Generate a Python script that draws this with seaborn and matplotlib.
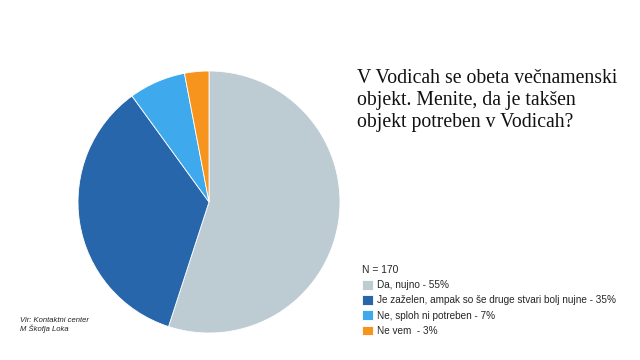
import matplotlib
matplotlib.use("Agg")
import matplotlib.pyplot as plt
import seaborn as sns

sns.set_theme(style="white")
plt.rcParams['font.family'] = ['Liberation Sans', 'DejaVu Sans']

labels = ["Da, nujno - 55%",
          "Je zaželen, ampak so še druge stvari bolj nujne - 35%",
          "Ne, sploh ni potreben - 7%",
          "Ne vem  - 3%"]
values = [55, 35, 7, 3]
colors = ["#BDCCD3", "#2866AC", "#3FA9EE", "#F7941D"]
title_lines = "V Vodicah se obeta večnamenski\nobjekt. Menite, da je takšen\nobjekt potreben v Vodicah?"
source = "Vir: Kontaktni center\nM Škofja Loka"

fig = plt.figure(figsize=(6.4, 3.6), dpi=100)
ax = fig.add_axes([78/640, 27/360, 262/640, 262/360])
wedges, _ = ax.pie(values, colors=colors, startangle=90, counterclock=False,
                   wedgeprops=dict(edgecolor="white", linewidth=0.6))
ax.set_xlim(-1.0, 1.0)
ax.set_ylim(-1.0, 1.0)
ax.set_aspect("equal")

fig.text(357/640, 1 - 69/360, title_lines, family=["Liberation Serif", "DejaVu Serif"],
         fontsize=14.2, va="top", ha="left", linespacing=1.2, color="#111111")

leg = fig.legend(wedges, labels, title="N = 170", loc="upper left",
                 bbox_to_anchor=(355/640, 1 - 258/360), frameon=False,
                 fontsize=7.2, title_fontsize=7.4, handlelength=1.1, handleheight=1.1,
                 handletextpad=0.4, labelspacing=0.5, borderpad=0.2)
leg._legend_box.align = "left"

fig.text(20/640, 1 - 317/360, source, fontsize=5.5, style="italic", va="top",
         ha="left", color="#222222", linespacing=1.1)

fig.savefig("out.png", dpi=100)
